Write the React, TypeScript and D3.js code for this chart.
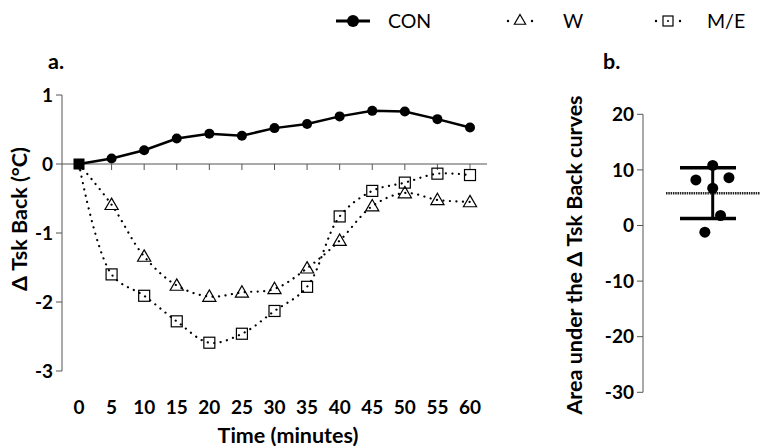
import * as d3 from 'd3';

// time points (minutes)
const times = [0, 5, 10, 15, 20, 25, 30, 35, 40, 45, 50, 55, 60];

// mean delta Tsk back per condition
const conValues = [0, 0.08, 0.2, 0.37, 0.44, 0.41, 0.52, 0.58, 0.69, 0.77, 0.76, 0.65, 0.53];
const wValues = [0, -0.59, -1.34, -1.76, -1.92, -1.86, -1.81, -1.51, -1.11, -0.61, -0.42, -0.52, -0.55];
const meValues = [0, -1.6, -1.91, -2.28, -2.59, -2.46, -2.13, -1.78, -0.76, -0.39, -0.27, -0.14, -0.16];

const yTicksA = [1, 0, -1, -2, -3];

// area under the curves (individual subjects)
const aucValues = [8.2, 8.6, 10.8, 6.7, 1.8, -1.2];
const aucJitter = [-0.3, 0.29, 0, 0, 0.14, -0.14];
const yTicksB = [20, 10, 0, -10, -20, -30];

const FONT = 'Lato, "Open Sans", sans-serif';

const App = () => {
	const W = 760;
	const H = 447;

	// panel a scales
	const xA = d3.scaleLinear().domain([0, 60]).range([79, 470]);
	const yA = d3.scaleLinear().domain([-3, 1]).range([371, 95]);

	// panel b scales
	const yB = d3.scaleLinear().domain([-30, 20]).range([392.3, 114.3]);
	const xB = d3.scaleLinear().domain([-1, 1]).range([656.7, 768.7]);

	const smooth = d3
		.line<[number, number]>()
		.x((d) => xA(d[0]))
		.y((d) => yA(d[1]))
		.curve(d3.curveCatmullRom.alpha(0.5));
	const straight = d3
		.line<[number, number]>()
		.x((d) => xA(d[0]))
		.y((d) => yA(d[1]));

	const pts = (vals: number[]) => times.map((t, i) => [t, vals[i]] as [number, number]);

	const tri = d3.symbol(d3.symbolTriangle, 75)();
	const triSmall = d3.symbol(d3.symbolTriangle, 55)();

	const mean = d3.mean(aucValues) as number;
	const sd = d3.deviation(aucValues) as number;

	const axisColor = '#555';
	const tickSize = 19;
	const titleSize = 21.5;

	return (
		<svg
			width={W}
			height={H}
			style={{ position: 'absolute', left: 0, top: 0, background: '#fff' }}
			fontFamily={FONT}
		>
			{/* Legend */}
			<g>
				<line x1={336} x2={370} y1={21} y2={21} stroke="#000" strokeWidth={3} />
				<circle cx={353} cy={21} r={6} fill="#000" />
				<text x={388} y={28} fontSize={19.5}>CON</text>

				<circle cx={508} cy={21} r={1.2} fill="#000" />
				<circle cx={532} cy={21} r={1.2} fill="#000" />
				<path d={triSmall} transform="translate(520,21)" fill="#fff" stroke="#000" strokeWidth={1.2} />
				<text x={563} y={28} fontSize={19.5}>W</text>

				<circle cx={656} cy={21} r={1.2} fill="#000" />
				<circle cx={680} cy={21} r={1.2} fill="#000" />
				<rect x={663} y={16} width={10} height={10} fill="#fff" stroke="#000" strokeWidth={1.2} />
				<circle cx={668} cy={21} r={1} fill="#000" />
				<text x={707} y={28} fontSize={19.5}>M/E</text>
			</g>

			{/* Panel a */}
			<text x={48} y={69} fontSize={titleSize} fontWeight="bold">a.</text>

			<line x1={62} x2={62} y1={yA(1)} y2={yA(-3)} stroke={axisColor} strokeWidth={1} />
			{yTicksA.map((t) => (
				<g key={t}>
					<line x1={56} x2={62} y1={yA(t)} y2={yA(t)} stroke={axisColor} />
					<text x={53} y={yA(t)} dy="0.35em" textAnchor="end" fontSize={tickSize} fontWeight="bold">
						{t}
					</text>
				</g>
			))}
			<line x1={62} x2={487} y1={yA(0)} y2={yA(0)} stroke={axisColor} strokeWidth={1} />
			{times.map((t) => (
				<g key={t}>
					<line x1={xA(t)} x2={xA(t)} y1={yA(0)} y2={yA(0) + 6} stroke={axisColor} />
					<text x={xA(t)} y={407} dy="0.35em" textAnchor="middle" fontSize={tickSize} fontWeight="bold">
						{t}
					</text>
				</g>
			))}
			<text x={288} y={443} textAnchor="middle" fontSize={titleSize} fontWeight="bold">
				Time (minutes)
			</text>
			<text
				transform={`translate(27,${219}) rotate(-90)`}
				textAnchor="middle"
				fontSize={titleSize}
				fontWeight="bold"
			>
				Δ Tsk Back (°C)
			</text>

			{/* W and M/E dotted spline lines */}
			<path
				d={smooth(pts(wValues)) || ''}
				fill="none"
				stroke="#000"
				strokeWidth={2.2}
				strokeDasharray="0.1 6.4"
				strokeLinecap="round"
			/>
			<path
				d={smooth(pts(meValues)) || ''}
				fill="none"
				stroke="#000"
				strokeWidth={2.2}
				strokeDasharray="0.1 6.4"
				strokeLinecap="round"
			/>
			{times.map((t, i) =>
				i === 0 ? null : (
					<path
						key={'w' + t}
						d={tri}
						transform={`translate(${xA(t)},${yA(wValues[i]) + 1})`}
						fill="none"
						stroke="#000"
						strokeWidth={1.2}
					/>
				)
			)}
			{times.map((t, i) =>
				i === 0 ? null : (
					<rect
						key={'m' + t}
						x={xA(t) - 5.5}
						y={yA(meValues[i]) - 5.5}
						width={11}
						height={11}
						fill="none"
						stroke="#000"
						strokeWidth={1.2}
					/>
				)
			)}

			{/* CON solid line */}
			<path d={straight(pts(conValues)) || ''} fill="none" stroke="#000" strokeWidth={2.5} />
			{times.map((t, i) => (
				<circle key={'c' + t} cx={xA(t)} cy={yA(conValues[i])} r={5} fill="#000" />
			))}
			<rect x={xA(0) - 5.5} y={yA(0) - 5.5} width={11} height={11} fill="#000" />

			{/* Panel b */}
			<text x={603} y={69} fontSize={titleSize} fontWeight="bold">b.</text>
			<line x1={643} x2={643} y1={yB(20)} y2={yB(-30)} stroke={axisColor} strokeWidth={1} />
			{yTicksB.map((t) => (
				<g key={t}>
					<line x1={637} x2={643} y1={yB(t)} y2={yB(t)} stroke={axisColor} />
					<text x={634} y={yB(t)} dy="0.35em" textAnchor="end" fontSize={tickSize} fontWeight="bold">
						{t}
					</text>
				</g>
			))}
			<text
				transform={`translate(582,${255}) rotate(-90)`}
				textAnchor="middle"
				fontSize={titleSize}
				fontWeight="bold"
			>
				Area under the Δ Tsk Back curves
			</text>

			<line
				x1={666}
				x2={W}
				y1={yB(mean)}
				y2={yB(mean)}
				stroke="#222"
				strokeWidth={2.5}
				strokeDasharray="1.5 0.8"
			/>
			<line x1={xB(0)} x2={xB(0)} y1={yB(mean + sd)} y2={yB(mean - sd)} stroke="#000" strokeWidth={3} />
			<line x1={680} x2={736} y1={yB(mean + sd)} y2={yB(mean + sd)} stroke="#000" strokeWidth={3.5} />
			<line x1={680} x2={736} y1={yB(mean - sd)} y2={yB(mean - sd)} stroke="#000" strokeWidth={3.5} />
			{aucValues.map((v, i) => (
				<circle key={'a' + i} cx={xB(aucJitter[i])} cy={yB(v)} r={5.5} fill="#000" />
			))}
		</svg>
	);
};

export default App;
